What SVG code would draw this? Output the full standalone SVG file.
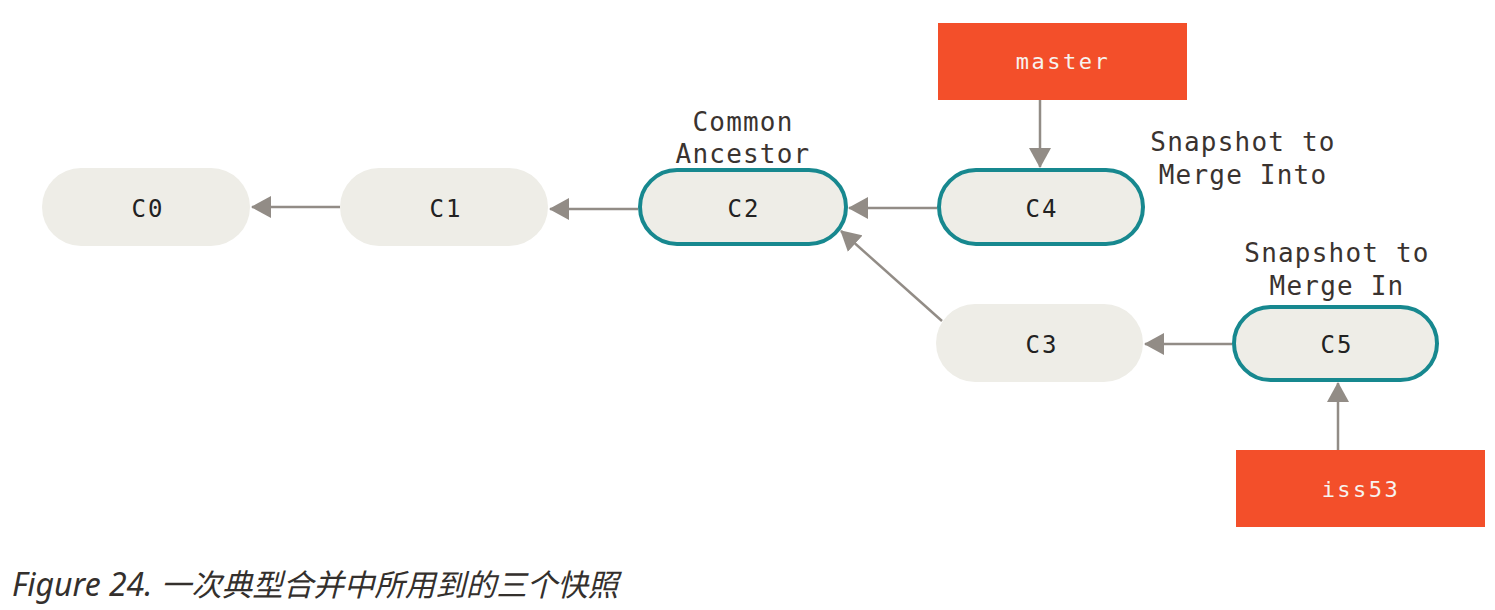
<svg xmlns="http://www.w3.org/2000/svg" width="1495" height="610" viewBox="0 0 1495 610">
<style>
.node{fill:#eeede7}
.hl{fill:#eeede7;stroke:#17888f;stroke-width:4}
.lbl{font-family:"DejaVu Sans Mono","Liberation Mono",monospace;font-size:24px;fill:#222;text-anchor:middle;letter-spacing:2px}
.note{font-family:"DejaVu Sans Mono","Liberation Mono",monospace;font-size:26px;fill:#3a3330;text-anchor:middle;letter-spacing:1.2px}
.ref{fill:#f34f2a}
.reft{font-family:"DejaVu Sans Mono","Liberation Mono",monospace;font-size:22px;fill:#f7f3ef;text-anchor:middle;letter-spacing:2.5px}
.edge{stroke:#928c86;stroke-width:2.5;fill:none}
.cap{font-family:"Noto Sans","Noto Sans CJK SC",sans-serif;font-style:italic;font-size:32px;fill:#34302d}
.cjk{font-family:"Noto Sans CJK SC",sans-serif;font-size:30.5px}
</style>
<defs>
<marker id="ah" viewBox="0 0 20 22" refX="19" refY="11" markerWidth="20" markerHeight="22" markerUnits="userSpaceOnUse" orient="auto">
<path d="M0,0 L20,11 L0,22 Z" fill="#928c86"/>
</marker>
</defs>
<g id="connectors">
<line class="edge" x1="340" y1="207" x2="252" y2="207" marker-end="url(#ah)"/>
<line class="edge" x1="638" y1="209" x2="550" y2="209" marker-end="url(#ah)"/>
<line class="edge" x1="937" y1="208" x2="849" y2="208" marker-end="url(#ah)"/>
<line class="edge" x1="942" y1="321" x2="841" y2="231" marker-end="url(#ah)"/>
<line class="edge" x1="1232" y1="344" x2="1145" y2="344" marker-end="url(#ah)"/>
<line class="edge" x1="1040" y1="100" x2="1040" y2="167" marker-end="url(#ah)"/>
<line class="edge" x1="1338" y1="450" x2="1338" y2="383" marker-end="url(#ah)"/>
</g>
<g id="C0"><rect class="node" x="42" y="168" width="208" height="78" rx="39"/><text class="lbl" x="148" y="217">C0</text></g>
<g id="C1"><rect class="node" x="340" y="168" width="208" height="78" rx="39"/><text class="lbl" x="446" y="217">C1</text></g>
<g id="C2"><rect class="hl" x="640" y="170" width="206" height="74" rx="37"/><text class="lbl" x="744" y="217">C2</text>
<text class="note" x="743" y="131">Common</text><text class="note" x="743" y="163">Ancestor</text></g>
<g id="C4"><rect class="hl" x="939" y="170" width="204" height="74" rx="37"/><text class="lbl" x="1042" y="217">C4</text>
<text class="note" x="1243" y="151">Snapshot to</text><text class="note" x="1243" y="184">Merge Into</text></g>
<g id="C3"><rect class="node" x="936" y="304" width="207" height="78" rx="39"/><text class="lbl" x="1042" y="353">C3</text></g>
<g id="C5"><rect class="hl" x="1234" y="307" width="203" height="73" rx="36.5"/><text class="lbl" x="1337" y="353">C5</text>
<text class="note" x="1337" y="262">Snapshot to</text><text class="note" x="1337" y="295">Merge In</text></g>
<g id="master"><rect class="ref" x="938" y="23" width="249" height="77"/><text class="reft" x="1063" y="69">master</text></g>
<g id="iss53"><rect class="ref" x="1236" y="450" width="249" height="77"/><text class="reft" x="1361" y="497">iss53</text></g>
<text class="cap" x="12" y="596">Figure 24. <tspan class="cjk">一次典型合并中所用到的三个快照</tspan></text>
</svg>
